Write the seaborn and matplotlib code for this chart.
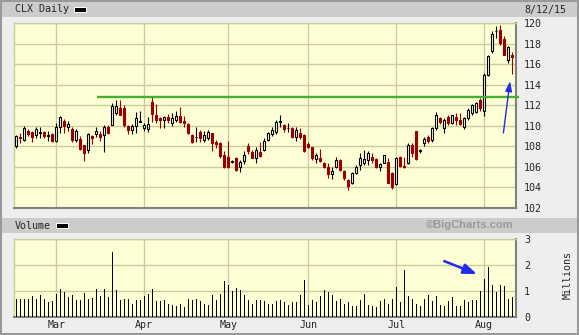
import numpy as np
import pandas as pd
import matplotlib
matplotlib.use("Agg")
import matplotlib.pyplot as plt
from matplotlib.patches import Rectangle
import seaborn as sns

# ---------------- data ----------------
title = "CLX Daily"
date_label = "8/12/15"
holidays = ["2015-02-16", "2015-04-03", "2015-05-25", "2015-07-03"]
dates = pd.bdate_range("2015-02-13", "2015-08-12")
dates = dates[~dates.isin(pd.to_datetime(holidays))]

opens = [108.0,108.95,108.65,109.53,109.37,109.08,109.3,109.4,109.05,109.2,
         108.56,109.85,110.5,109.92,109.73,108.65,108.72,108.17,107.68,108.98,
         109.2,109.24,109.14,109.85,110.1,111.25,111.73,111.73,109.95,109.63,
         109.95,110.4,109.8,109.66,112.35,111.05,110.79,110.56,110.89,110.24,
         110.56,110.99,110.5,110.18,109.1,108.9,109.43,108.62,108.85,109.27,
         108.46,108.3,107.16,107.0,106.5,106.9,106.02,106.58,108.07,107.42,
         106.9,107.49,107.65,108.62,109.17,109.43,110.4,110.08,109.75,109.75,
         108.88,109.33,109.1,108.23,107.9,106.74,106.84,106.35,105.96,105.31,
         106.02,106.67,105.64,104.73,104.47,105.38,106.18,106.41,106.67,106.93,
         106.74,105.96,106.41,106.51,105.38,104.34,106.93,106.09,106.35,108.13,
         109.53,107.58,108.3,108.88,108.62,109.75,110.73,109.75,110.89,110.3,
         110.89,110.56,109.92,110.76,111.24,111.37,112.54,111.47,114.91,117.24,
         119.2,119.35,118.47,116.43,116.85]
highs = [109.14,109.3,109.95,109.7,109.53,109.85,109.85,109.53,109.46,109.3,
         110.3,110.92,110.7,110.44,109.85,109.73,108.98,108.17,109.3,109.14,
         109.85,109.46,110.05,110.05,112.22,112.55,112.55,111.99,110.05,110.18,
         111.35,111.4,110.28,110.9,112.8,112.09,110.89,110.99,111.12,111.21,
         111.44,111.86,110.99,110.24,109.17,109.92,109.59,109.5,109.59,109.33,
         108.62,108.39,107.55,108.52,106.67,107.0,106.67,107.55,108.3,107.65,
         107.97,108.46,108.85,109.36,109.92,110.56,111.05,110.14,110.24,109.92,
         109.92,109.75,109.2,108.46,107.97,107.32,107.71,106.51,106.41,106.02,
         107.0,106.74,105.7,104.79,105.54,106.18,107.38,107.65,107.58,107.32,
         106.84,106.41,107.19,106.84,105.54,106.93,107.06,107.0,108.3,108.3,
         109.53,107.71,108.94,109.1,109.85,111.37,110.89,110.73,111.05,111.05,
         111.21,111.21,110.89,111.73,112.12,112.35,112.7,115.14,116.92,119.19,
         119.68,119.77,118.7,117.73,117.18]
lows = [107.84,108.3,108.5,109.0,108.43,108.82,108.82,108.82,108.56,108.43,
        108.43,109.3,109.3,109.53,108.43,108.43,107.68,106.55,107.36,108.23,
        108.88,108.5,107.45,109.2,110.05,111.02,111.02,109.85,109.2,109.2,
        109.3,110.38,109.5,109.4,110.34,110.24,109.82,109.82,110.24,110.01,
        110.34,110.24,109.92,109.17,108.36,108.46,108.46,108.46,108.62,107.55,
        107.87,106.84,105.93,105.86,106.35,105.6,105.47,106.25,107.23,106.84,
        106.35,107.0,107.55,108.52,109.04,109.17,109.92,109.43,109.43,108.78,
        108.55,108.68,107.48,107.81,106.67,106.35,106.51,105.86,104.89,104.79,
        105.86,105.64,104.73,103.75,104.34,105.31,105.7,106.18,106.18,106.41,
        105.86,105.64,106.35,104.41,103.82,104.24,105.96,105.86,106.28,107.0,
        106.67,107.38,108.04,108.36,108.46,109.6,110.18,109.33,110.08,110.18,
        110.08,110.08,109.66,110.6,111.05,111.2,111.4,110.92,114.81,117.08,
        118.54,117.89,116.85,116.1,115.04]
closes = [109.0,108.8,109.8,109.2,108.9,109.73,109.4,108.98,109.15,108.56,
          109.85,110.83,109.95,110.18,108.65,109.46,107.78,107.36,109.2,108.82,
          109.46,108.88,109.85,109.3,111.9,111.9,111.09,110.05,109.63,109.95,
          110.76,110.45,110.05,110.14,111.1,110.56,110.56,110.89,110.56,110.79,
          110.99,110.4,110.24,109.27,108.46,108.95,108.78,109.1,109.36,108.3,
          108.2,107.1,106.02,106.02,106.52,105.7,106.51,107.16,107.55,106.9,
          107.65,107.1,108.52,109.27,109.59,110.4,110.45,109.69,109.8,108.94,
          109.59,108.88,107.58,107.97,106.84,107.16,106.61,105.96,105.31,105.64,
          106.67,105.7,104.89,104.14,105.38,105.96,106.84,106.74,107.32,106.67,
          105.96,106.28,107.12,104.47,104.01,106.84,106.09,105.96,108.13,107.38,
          106.74,107.6,108.68,108.55,109.75,111.05,110.4,110.56,110.24,111.05,
          110.56,110.18,110.73,111.57,111.99,112.2,111.73,114.91,116.76,118.93,
          119.25,118.05,116.92,117.63,116.66]
volume_millions = [0.71,0.69,0.71,0.71,0.82,0.69,0.86,0.71,0.56,0.60,
                   0.90,1.09,0.95,0.76,0.83,0.67,0.67,0.92,0.71,0.73,
                   1.09,0.79,1.09,0.76,2.51,1.03,0.67,0.68,0.71,0.51,
                   0.67,0.67,0.82,0.88,1.09,0.60,0.60,0.67,0.50,0.45,
                   0.44,0.51,0.38,0.71,0.67,0.71,
                   0.60,0.50,0.47,0.86,0.67,0.90,1.37,1.24,0.99,1.12,
                   1.03,0.86,0.64,0.51,0.67,0.67,0.60,0.51,0.51,0.60,
                   0.64,0.56,0.47,0.56,0.56,0.86,1.44,0.47,0.64,0.56,
                   0.79,1.05,0.95,0.86,0.60,0.71,0.51,0.59,0.44,0.41,
                   0.64,0.90,0.47,0.44,0.38,0.60,0.71,0.51,0.71,1.14,
                   0.56,1.79,0.79,0.69,0.51,0.44,0.69,0.86,0.60,0.79,
                   0.47,0.44,0.60,0.76,0.44,0.44,0.64,0.56,0.67,0.64,
                   0.99,1.47,1.91,1.24,0.95,1.24,1.21,0.71,0.76]
price_ticks = [102, 104, 106, 108, 110, 112, 114, 116, 118, 120]
volume_ticks = [0, 1, 2, 3]
month_labels = ["Mar", "Apr", "May", "Jun", "Jul", "Aug"]
resistance_level = 112.8
resistance_start = 20.2   # bar index where the line begins
price_arrow = ((121.8, 109.3), (123.45, 114.35))
volume_arrow = ((107.0, 2.15), (115.2, 1.65))

df = pd.DataFrame({"date": dates, "open": opens, "high": highs, "low": lows,
                   "close": closes, "volume": volume_millions})
df["i"] = np.arange(len(df))
first_of_month = df.groupby(df["date"].dt.to_period("M"))["i"].min().values[1:]

# ---------------- style ----------------
sns.set_style("white")
plt.rcParams["font.family"] = ["DejaVu Sans Mono", "DejaVu Sans"]

W, H = 579, 335
BG = "#eeeeee"
PLOT_BG = "#ffffd6"
GRID = "#cccc99"
BAND = "#cccccc"
RED = "#990000"
BLUE = "#1f2cf0"
FS = 7.2

fig = plt.figure(figsize=(W / 100, H / 100), dpi=100, facecolor=BG)


def fx(px):
    return px / W


def fy(py):
    return 1 - py / H


def rect(x0, y0, x1, y1, **kw):
    fig.add_artist(Rectangle((fx(x0), fy(y1)), fx(x1) - fx(x0), fy(y0) - fy(y1),
                             transform=fig.transFigure, **kw))


# title bands
rect(2, 2, 579, 17, facecolor=BAND, edgecolor="none", zorder=0)
rect(2, 218, 579, 233, facecolor=BAND, edgecolor="none", zorder=0)
fig.text(fx(15), fy(9.5), title, ha="left", va="center", fontsize=FS)
rect(74, 7.5, 86, 11.8, facecolor="black", edgecolor="white", lw=0.7)
fig.text(fx(524), fy(9.5), date_label, ha="left", va="center", fontsize=FS)
fig.text(fx(15), fy(226), "Volume", ha="left", va="center", fontsize=FS)
rect(56, 223.5, 68, 227.8, facecolor="black", edgecolor="white", lw=0.7)
fig.text(fx(470), fy(225.5), "©BigCharts.com", ha="center", va="center",
         fontsize=8, fontweight="bold", color="#999999",
         family=["Liberation Sans", "DejaVu Sans"])
fig.text(fx(567.5), fy(275), "Millions", ha="center", va="center",
         rotation=90, fontsize=FS)
rect(0, 0, 579, 335, fill=False, edgecolor="#999999", lw=2.9)

ax = fig.add_axes([fx(14), fy(208), fx(516) - fx(14), fy(23) - fy(208)])
axv = fig.add_axes([fx(14), fy(317), fx(516) - fx(14), fy(239) - fy(317)])

for a in (ax, axv):
    a.set_facecolor(PLOT_BG)
    a.set_axisbelow(True)
    a.spines["top"].set_color(GRID)
    a.spines["left"].set_color(GRID)
    a.spines["top"].set_linewidth(1.0)
    a.spines["left"].set_linewidth(1.0)
    a.spines["bottom"].set_color("#808080")
    a.spines["right"].set_color("#808080")
    a.spines["bottom"].set_linewidth(1.5)
    a.spines["right"].set_linewidth(1.5)

# ---------------- candles ----------------
up = df["close"] >= df["open"]
for mask, edge, face in [(up, "black", PLOT_BG), (~up, RED, RED)]:
    d = df[mask]
    ax.vlines(d["i"], d["low"], d["high"], color=edge, lw=0.8, zorder=3)
    ax.bar(d["i"], np.maximum((d["close"] - d["open"]).abs(), 0.05),
           bottom=np.minimum(d["open"], d["close"]), width=0.55,
           facecolor=face, edgecolor=edge, lw=0.8, zorder=4)

ax.hlines(resistance_level, resistance_start, 125.7, color="#44b02c", lw=1.7,
          zorder=5, clip_on=False)
ax.annotate("", xy=price_arrow[1], xytext=price_arrow[0],
            arrowprops=dict(arrowstyle="-|>,head_length=0.6,head_width=0.2",
                            color=BLUE, lw=1.0, mutation_scale=10,
                            shrinkA=0, shrinkB=0), zorder=6)

ax.set_xlim(-0.55, 124.95)
ax.set_ylim(102, 120)
ax.set_yticks(price_ticks)
ax.set_xticks(first_of_month)
ax.grid(True, color=GRID, lw=1.0)
ax.tick_params(axis="y", left=False, right=True, labelleft=False,
               labelright=True, length=0, pad=5.8, labelsize=FS)
ax.tick_params(axis="x", length=0, labelbottom=False)

# ---------------- volume ----------------
sns.barplot(x=df["i"], y=df["volume"], native_scale=True, width=0.3,
            color="black", saturation=1, errorbar=None, linewidth=0,
            antialiased=False, ax=axv, zorder=3)
axv.annotate("", xy=volume_arrow[1], xytext=volume_arrow[0],
             arrowprops=dict(arrowstyle="-|>,head_length=0.8,head_width=0.3",
                             color=BLUE, lw=1.8, mutation_scale=10,
                             shrinkA=0, shrinkB=0), zorder=6)
axv.set_xlim(-0.55, 124.95)
axv.set_ylim(0, 3)
axv.set_yticks(volume_ticks)
axv.set_xticks(first_of_month)
axv.set_xticklabels(month_labels)
axv.set_xlabel("")
axv.set_ylabel("")
axv.grid(True, color=GRID, lw=1.0)
axv.tick_params(axis="y", left=False, right=True, labelleft=False,
                labelright=True, length=0, pad=5.8, labelsize=FS)
axv.tick_params(axis="x", length=0, pad=2.5, labelsize=FS)

fig.savefig("out.png", dpi=100, facecolor=BG)
